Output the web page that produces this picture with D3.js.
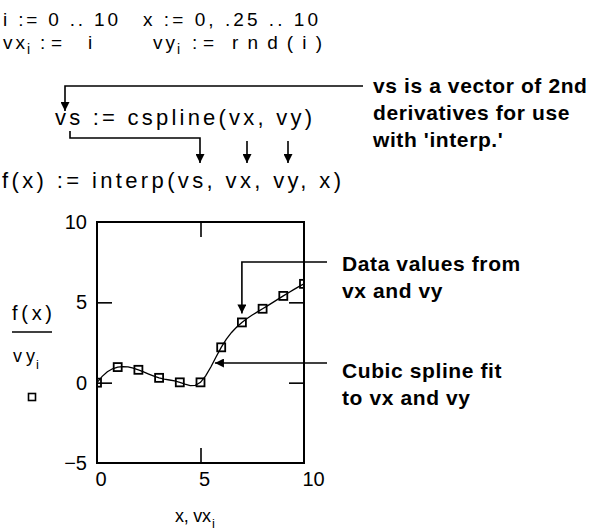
<!DOCTYPE html>
<html>
<head>
<meta charset="utf-8">
<script src="https://cdn.jsdelivr.net/npm/d3@7"></script>
<style>
  html, body { margin: 0; padding: 0; background: #fff; }
  svg { display: block; }
  text { font-family: "Liberation Sans", Arial, sans-serif; fill: #000; }
  .note { font-weight: bold; letter-spacing: 0.6px; }
</style>
</head>
<body>
<svg id="chart" width="610" height="531"></svg>
<script>
// Sample points: vx_i = i, vy_i = rnd(i)
const vx = [0, 1, 2, 3, 4, 5, 6, 7, 8, 9, 10];
const vy = [0, 0.97, 0.8, 0.3, 0.02, 0.02, 2.2, 3.75, 4.6, 5.4, 6.15];

// Range variable x := 0, .25 .. 10
const xStart = 0, xStep = 0.25, xEnd = 10;

// Axis limits and tick values
const xDomain = [0, 10];
const yDomain = [-5, 10];
const xTickVals = [0, 5, 10];
const yTickVals = [-5, 0, 5, 10];

// ---- cubic spline (cubic-ended, as in cspline) ----
function cspline(xs, ys) {
  const n = xs.length;
  const A = Array.from({length: n}, () => new Array(n).fill(0));
  const b = new Array(n).fill(0);
  // end conditions: second derivative extrapolated linearly at both ends
  A[0][0] = 1; A[0][1] = -2; A[0][2] = 1;
  A[n-1][n-1] = 1; A[n-1][n-2] = -2; A[n-1][n-3] = 1;
  for (let i = 1; i < n - 1; i++) {
    const h0 = xs[i] - xs[i-1], h1 = xs[i+1] - xs[i];
    A[i][i-1] = h0; A[i][i] = 2 * (h0 + h1); A[i][i+1] = h1;
    b[i] = 6 * ((ys[i+1] - ys[i]) / h1 - (ys[i] - ys[i-1]) / h0);
  }
  // Gaussian elimination with partial pivoting
  for (let c = 0; c < n; c++) {
    let p = c;
    for (let r = c + 1; r < n; r++) if (Math.abs(A[r][c]) > Math.abs(A[p][c])) p = r;
    [A[c], A[p]] = [A[p], A[c]]; [b[c], b[p]] = [b[p], b[c]];
    for (let r = c + 1; r < n; r++) {
      const f = A[r][c] / A[c][c];
      if (!f) continue;
      for (let k = c; k < n; k++) A[r][k] -= f * A[c][k];
      b[r] -= f * b[c];
    }
  }
  const M = new Array(n).fill(0);
  for (let r = n - 1; r >= 0; r--) {
    let s = b[r];
    for (let k = r + 1; k < n; k++) s -= A[r][k] * M[k];
    M[r] = s / A[r][r];
  }
  return M;
}

function interp(M, xs, ys, x) {
  let k = 0;
  while (k < xs.length - 2 && x > xs[k+1]) k++;
  const h = xs[k+1] - xs[k];
  const a = (xs[k+1] - x) / h, bb = (x - xs[k]) / h;
  return a * ys[k] + bb * ys[k+1] +
    ((a*a*a - a) * M[k] + (bb*bb*bb - bb) * M[k+1]) * h * h / 6;
}

const vs = cspline(vx, vy);
const xs = d3.range(xStart, xEnd + xStep / 2, xStep);
const curve = xs.map(x => [x, interp(vs, vx, vy, x)]);

// ---- drawing ----
const svg = d3.select("#chart");

const defs = svg.append("defs");
defs.append("marker")
  .attr("id", "arrow")
  .attr("viewBox", "0 0 10 10")
  .attr("refX", 10).attr("refY", 5)
  .attr("markerUnits", "userSpaceOnUse")
  .attr("markerWidth", 9).attr("markerHeight", 9)
  .attr("orient", "auto")
  .append("path").attr("d", "M0,0 L10,5 L0,10 Z").attr("fill", "#000");

const plot = {left: 97, right: 304, top: 222, bottom: 463};
const x = d3.scaleLinear().domain(xDomain).range([plot.left, plot.right]);
const y = d3.scaleLinear().domain(yDomain).range([plot.bottom, plot.top]);

defs.append("clipPath").attr("id", "plotclip")
  .append("rect")
  .attr("x", plot.left).attr("y", plot.top)
  .attr("width", plot.right - plot.left).attr("height", plot.bottom - plot.top);

// plain text helper
function txt(s, px, py, size, opts = {}) {
  const t = svg.append("text").attr("x", px).attr("y", py)
    .style("font-size", size + "px").text(s);
  if (opts.len) t.attr("textLength", opts.len).attr("lengthAdjust", "spacing");
  if (opts.cls) t.attr("class", opts.cls);
  if (opts.anchor) t.attr("text-anchor", opts.anchor);
  return t;
}

// worksheet definitions
txt("i := 0 .. 10", 3, 26, 19, {len: 115});
txt("x := 0, .25 .. 10", 143, 26, 19, {len: 175});

txt("vx", 3, 49, 19, {len: 22});
txt("i", 27, 54, 14);
txt(":=", 40, 49, 19, {len: 22});
txt("i", 88, 49, 19);

txt("vy", 153, 49, 19, {len: 22});
txt("i", 177, 54, 14);
txt(":=", 192, 49, 19, {len: 22});
txt("rnd(i)", 232, 49, 19, {len: 90});

txt("vs := cspline(vx, vy)", 55, 125, 22, {len: 257});
txt("f(x) := interp(vs, vx, vy, x)", 2, 188, 22, {len: 339});

// notes
txt("vs is a vector of 2nd", 373, 93, 21, {cls: "note"});
txt("derivatives for use", 373, 120, 21, {cls: "note"});
txt("with 'interp.'", 373, 147, 21, {cls: "note"});

txt("Data values from", 342, 271, 21, {cls: "note"});
txt("vx and vy", 342, 298, 21, {cls: "note"});
txt("Cubic spline fit", 342, 378, 21, {cls: "note"});
txt("to vx and vy", 342, 405, 21, {cls: "note"});

// connector lines
const conn = svg.append("g").attr("fill", "none").attr("stroke", "#000").attr("stroke-width", 1.6);
conn.append("path").attr("d", "M363,86 H65 V111").attr("marker-end", "url(#arrow)");
conn.append("path").attr("d", "M70,131 V138 H200 V163").attr("marker-end", "url(#arrow)");
conn.append("path").attr("d", "M247,141 V163").attr("marker-end", "url(#arrow)");
conn.append("path").attr("d", "M288,141 V163").attr("marker-end", "url(#arrow)");

// plot frame
svg.append("rect")
  .attr("x", plot.left).attr("y", plot.top)
  .attr("width", plot.right - plot.left).attr("height", plot.bottom - plot.top)
  .attr("fill", "none").attr("stroke", "#000").attr("stroke-width", 2);

const tickLen = 15;
const inner = v => v !== xDomain[0] && v !== xDomain[1];
const innerY = v => v !== yDomain[0] && v !== yDomain[1];

const gB = svg.append("g").attr("transform", `translate(0,${plot.bottom})`)
  .call(d3.axisBottom(x).tickValues(xTickVals).tickSizeInner(-tickLen).tickSizeOuter(0).tickPadding(9));
const gL = svg.append("g").attr("transform", `translate(${plot.left},0)`)
  .call(d3.axisLeft(y).tickValues(yTickVals).tickSizeInner(-tickLen).tickSizeOuter(0).tickPadding(10)
    .tickFormat(d => d < 0 ? "\u2212" + Math.abs(d) : d));
const gT = svg.append("g").attr("transform", `translate(0,${plot.top})`)
  .call(d3.axisTop(x).tickValues(xTickVals.filter(inner)).tickSizeInner(-tickLen).tickSizeOuter(0).tickFormat(""));
const gR = svg.append("g").attr("transform", `translate(${plot.right},0)`)
  .call(d3.axisRight(y).tickValues(yTickVals.filter(innerY)).tickSizeInner(-tickLen).tickSizeOuter(0).tickFormat(""));

[gB, gL, gT, gR].forEach(g => {
  g.select(".domain").remove();
  g.selectAll(".tick line").attr("stroke", "#000").attr("stroke-width", 1.6);
  g.selectAll(".tick text").attr("fill", "#000")
    .style("font-family", '"Liberation Sans", Arial, sans-serif').style("font-size", "20px");
});
gB.selectAll(".tick").filter(d => !inner(d)).select("line").remove();
gL.selectAll(".tick").filter(d => !innerY(d)).select("line").remove();
gB.selectAll(".tick text").attr("text-anchor", "start").attr("dx", -2);

// data layer
const data = svg.append("g").attr("clip-path", "url(#plotclip)");
data.append("path")
  .datum(curve)
  .attr("fill", "none").attr("stroke", "#000").attr("stroke-width", 1.3)
  .attr("d", d3.line().x(d => x(d[0])).y(d => y(d[1])));

const sq = 8;
data.selectAll("rect.pt")
  .data(vx.map((v, i) => [v, vy[i]]))
  .join("rect").attr("class", "pt")
  .attr("x", d => x(d[0]) - sq / 2).attr("y", d => y(d[1]) - sq / 2)
  .attr("width", sq).attr("height", sq)
  .attr("fill", "none").attr("stroke", "#000").attr("stroke-width", 1.8);

// plot annotations
const ann = svg.append("g").attr("fill", "none").attr("stroke", "#000").attr("stroke-width", 1.6);
ann.append("path").attr("d", `M327,262 H${x(vx[7])} V${y(vy[7]) - 9}`).attr("marker-end", "url(#arrow)");
ann.append("path").attr("d", `M327,${y(interp(vs, vx, vy, 5.6))} H${x(5.6) + 2}`).attr("marker-end", "url(#arrow)");

// axis titles
txt("f(x)", 12, 320, 20, {len: 40});
svg.append("line").attr("x1", 12).attr("x2", 52).attr("y1", 332).attr("y2", 332)
  .attr("stroke", "#000").attr("stroke-width", 1.5);
txt("vy", 13, 362, 18, {len: 22});
txt("i", 36, 369, 13);
svg.append("rect").attr("x", 28.5).attr("y", 393.5).attr("width", 7).attr("height", 7)
  .attr("fill", "none").attr("stroke", "#000").attr("stroke-width", 1.6);

txt("x, vx", 175, 522, 18, {len: 36});
txt("i", 212, 528, 13);
</script>
</body>
</html>
